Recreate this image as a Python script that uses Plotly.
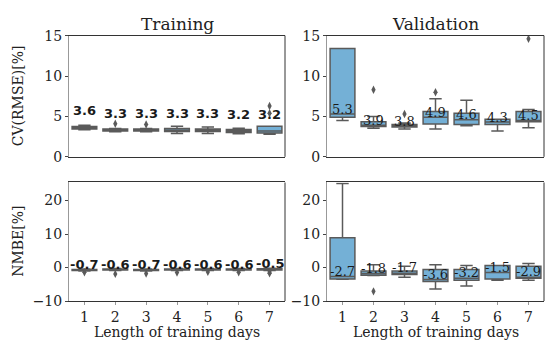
import plotly.graph_objects as go

days = [1, 2, 3, 4, 5, 6, 7]

# CV(RMSE) [%] - training
cv_tr_q1 = [3.45, 3.2, 3.2, 3.15, 3.15, 3.0, 2.95]
cv_tr_med = [3.6, 3.3, 3.3, 3.3, 3.3, 3.2, 3.2]
cv_tr_q3 = [3.75, 3.45, 3.45, 3.5, 3.45, 3.4, 3.8]
cv_tr_lo = [3.35, 3.1, 3.1, 2.9, 2.9, 2.85, 2.8]
cv_tr_hi = [3.9, 3.5, 3.5, 3.8, 3.7, 3.55, 3.8]
cv_tr_out_x = [2, 3, 7, 7]
cv_tr_out_y = [4.1, 4.0, 5.4, 6.3]

# CV(RMSE) [%] - validation
cv_va_q1 = [4.9, 3.75, 3.7, 4.05, 4.0, 4.0, 4.35]
cv_va_med = [5.3, 3.9, 3.8, 4.9, 4.6, 4.3, 4.5]
cv_va_q3 = [13.4, 4.35, 4.0, 5.6, 5.4, 4.65, 5.6]
cv_va_lo = [4.5, 3.55, 3.45, 3.45, 3.85, 3.2, 3.6]
cv_va_hi = [13.4, 5.0, 4.2, 7.2, 7.0, 4.65, 5.85]
cv_va_out_x = [2, 3, 4, 7]
cv_va_out_y = [8.3, 5.3, 8.0, 14.6]

# NMBE [%] - training
nm_tr_q1 = [-0.85, -0.75, -0.85, -0.75, -0.75, -0.75, -0.7]
nm_tr_med = [-0.7, -0.6, -0.7, -0.6, -0.6, -0.6, -0.5]
nm_tr_q3 = [-0.55, -0.45, -0.55, -0.45, -0.45, -0.45, -0.35]
nm_tr_lo = [-1.0, -0.9, -1.0, -0.9, -0.9, -0.9, -0.85]
nm_tr_hi = [-0.4, -0.3, -0.4, -0.3, -0.3, -0.3, -0.2]
nm_tr_out_x = [1, 2, 3, 4, 5, 6, 7, 7]
nm_tr_out_y = [-1.4, -1.9, -1.8, -1.5, -1.3, -1.4, -1.3, -1.7]

# NMBE [%] - validation
nm_va_q1 = [-3.4, -2.3, -2.1, -4.2, -3.8, -3.4, -3.2]
nm_va_med = [-2.7, -1.8, -1.7, -3.6, -3.2, -1.5, -2.9]
nm_va_q3 = [8.9, -1.05, -1.0, -0.6, -0.6, 0.6, 0.4]
nm_va_lo = [-3.5, -2.4, -2.9, -6.4, -5.5, -3.8, -3.8]
nm_va_hi = [25.1, 0.8, 0.4, 0.8, 0.6, 0.6, 1.2]
nm_va_out_x = [2]
nm_va_out_y = [-7.1]

BOX_FILL = "#74b0d6"
LINE = "#5a5a5a"
SERIF = "DejaVu Serif"

fig = go.Figure()

panels = [
    ("x", "y", cv_tr_q1, cv_tr_med, cv_tr_q3, cv_tr_lo, cv_tr_hi, cv_tr_out_x, cv_tr_out_y),
    ("x2", "y2", cv_va_q1, cv_va_med, cv_va_q3, cv_va_lo, cv_va_hi, cv_va_out_x, cv_va_out_y),
    ("x3", "y3", nm_tr_q1, nm_tr_med, nm_tr_q3, nm_tr_lo, nm_tr_hi, nm_tr_out_x, nm_tr_out_y),
    ("x4", "y4", nm_va_q1, nm_va_med, nm_va_q3, nm_va_lo, nm_va_hi, nm_va_out_x, nm_va_out_y),
]

for xa, ya, q1, med, q3, lo, hi, ox, oy in panels:
    fig.add_trace(go.Box(
        x=days, q1=q1, median=med, q3=q3, lowerfence=lo, upperfence=hi,
        xaxis=xa, yaxis=ya, width=0.8, whiskerwidth=0.5,
        fillcolor=BOX_FILL, line=dict(color=LINE, width=1.5),
        boxpoints=False, showlegend=False, hoverinfo="skip",
    ))
    fig.add_trace(go.Scatter(
        x=ox, y=oy, xaxis=xa, yaxis=ya, mode="markers",
        marker=dict(symbol="diamond-tall", size=6, color=LINE),
        showlegend=False, hoverinfo="skip",
    ))

annotations = []
# median labels above each box
label_sets = [
    ("x", "y", cv_tr_med, 2.1, dict(family="DejaVu Sans", size=13, color="#1a1a1a"), True),
    ("x2", "y2", cv_va_med, 0.6, dict(family=SERIF, size=13, color="#1a1a1a"), False),
    ("x3", "y3", nm_tr_med, 1.6, dict(family="DejaVu Sans", size=13, color="#1a1a1a"), True),
    ("x4", "y4", nm_va_med, 1.6, dict(family=SERIF, size=13, color="#1a1a1a"), False),
]
for xa, ya, med, off, font, bold in label_sets:
    for d, m in zip(days, med):
        txt = f"{m:.1f}"
        annotations.append(dict(
            x=d, y=m + off, xref=xa, yref=ya, showarrow=False,
            text=f"<b>{txt}</b>" if bold else txt, font=font,
            xanchor="center", yanchor="middle",
        ))

# panel titles
for txt, xc in [("Training", (0.126 + 0.520) / 2), ("Validation", (0.597 + 0.993) / 2)]:
    annotations.append(dict(x=xc, y=0.917, xref="paper", yref="paper", yanchor="bottom",
                            xanchor="center", showarrow=False, text=txt,
                            font=dict(family=SERIF, size=17, color="#222"), yshift=0))
# y-axis titles
for txt, yc in [("CV(RMSE)[%]", (0.553 + 0.917) / 2), ("NMBE[%]", (0.120 + 0.476) / 2)]:
    annotations.append(dict(x=18 / 548, y=yc, xref="paper", yref="paper", textangle=-90,
                            xanchor="center", yanchor="middle", showarrow=False, text=txt,
                            font=dict(family=SERIF, size=14, color="#222")))
# x-axis titles
for xc in [(0.126 + 0.520) / 2, (0.597 + 0.993) / 2]:
    annotations.append(dict(x=xc, y=0, xref="paper", yref="paper",
                            xanchor="center", yanchor="bottom", showarrow=False,
                            text="Length of training days", yshift=-1,
                            font=dict(family=SERIF, size=14, color="#222")))

fig.update_layout(annotations=annotations)

# right-hand spines drawn dark, left spines lighter
shapes = []
for xa, ya in [("x", "y"), ("x2", "y2"), ("x3", "y3"), ("x4", "y4")]:
    shapes.append(dict(type="line", xref=f"{xa} domain", yref=f"{ya} domain",
                       x0=1, x1=1, y0=0, y1=1, line=dict(color="#333", width=1)))
fig.update_layout(shapes=shapes)

tickfont = dict(family=SERIF, size=14, color="#222")
xcommon = dict(range=[0.5, 7.5], tickvals=days, showline=True, mirror=True,
               linecolor="#333", linewidth=1, showgrid=False, zeroline=False,
               ticks="outside", ticklen=3, tickcolor="#999", tickfont=tickfont)
ycommon = dict(showline=True, mirror=False, linecolor="#999", linewidth=1,
               showgrid=False, zeroline=False, ticks="outside", ticklen=3,
               tickcolor="#444", tickfont=tickfont)

xd_left = [69 / 548, 285 / 548]
xd_right = [327 / 548, 544 / 548]
yd_top = [0.553, 0.917]
yd_bot = [0.120, 0.476]

fig.update_layout(
    width=548, height=349,
    margin=dict(l=0, r=0, t=0, b=0),
    paper_bgcolor="white", plot_bgcolor="white",
    xaxis=dict(xcommon, domain=xd_left, anchor="y", showticklabels=False, ticks=""),
    yaxis=dict(ycommon, domain=yd_top, anchor="x", range=[0, 15], tickvals=[0, 5, 10, 15]),
    xaxis2=dict(xcommon, domain=xd_right, anchor="y2", showticklabels=False, ticks=""),
    yaxis2=dict(ycommon, domain=yd_top, anchor="x2", range=[0, 15], tickvals=[0, 5, 10, 15]),
    xaxis3=dict(xcommon, domain=xd_left, anchor="y3", ticklabelstandoff=0),
    yaxis3=dict(ycommon, domain=yd_bot, anchor="x3", range=[-10, 25.4], tickvals=[-10, 0, 10, 20]),
    xaxis4=dict(xcommon, domain=xd_right, anchor="y4", ticklabelstandoff=0),
    yaxis4=dict(ycommon, domain=yd_bot, anchor="x4", range=[-10, 25.4], tickvals=[-10, 0, 10, 20]),
)

fig.write_html("out.html")
